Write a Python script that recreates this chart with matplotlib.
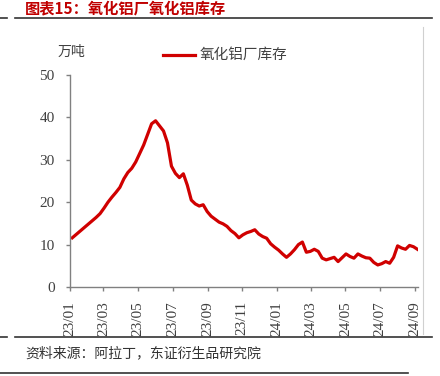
import numpy as np
import pandas as pd
import matplotlib
matplotlib.use('Agg')
from matplotlib import pyplot as plt
import matplotlib.dates as mdates

plt.rcParams['font.family'] = ['Noto Sans CJK SC', 'DejaVu Sans']

# weekly alumina plant inventory, 10k tonnes
dates = pd.date_range('2023-01-05', periods=88, freq='7D')
inventory = [
    11.6, 12.4, 13.2, 14.0, 14.8, 15.6, 16.4, 17.3, 18.6, 20.0,
    21.2, 22.3, 23.5, 25.5, 27.0, 28.0, 29.5, 31.5, 33.5, 36.0,
    38.5, 39.2, 38.0, 36.8, 34.0, 28.5, 26.8, 25.8, 26.7, 24.0,
    20.5, 19.6, 19.1, 19.4, 17.8, 16.7, 16.0, 15.3, 14.9, 14.3,
    13.3, 12.6, 11.6, 12.3, 12.8, 13.1, 13.5, 12.5, 11.9, 11.5,
    10.2, 9.4, 8.7, 7.8, 7.0, 7.8, 8.8, 10.0, 10.6, 8.2,
    8.4, 8.9, 8.4, 6.8, 6.4, 6.7, 7.0, 6.0, 6.9, 7.8,
    7.2, 6.8, 7.8, 7.3, 6.9, 6.8, 5.8, 5.2, 5.5, 6.0,
    5.6, 7.0, 9.7, 9.2, 8.9, 9.8, 9.5, 8.9,
]
y_ticks = [0, 10, 20, 30, 40, 50]
title = '图表15：氧化铝厂氧化铝库存'
series_name = '氧化铝厂库存'
unit = '万吨'
source = '资料来源：阿拉丁，东证衍生品研究院'

red = '#c00000'
grey = '#808080'
num_font = 'Liberation Serif'

fig = plt.figure(figsize=(4.4, 3.76), dpi=100)
ax = fig.add_axes([70 / 440, 89 / 376, 348 / 440, 212 / 376])

ax.plot(dates, inventory, color='#d00000', lw=2.3, solid_joinstyle='round')

ax.set_ylim(0, 50)
ax.set_yticks(y_ticks)
ax.set_xlim(pd.Timestamp('2023-01-01'), dates[-1] + pd.Timedelta(days=1))
ax.xaxis.set_major_locator(mdates.MonthLocator(bymonth=[1, 3, 5, 7, 9, 11]))
ax.xaxis.set_major_formatter(mdates.DateFormatter('%y/%m'))

for s in ('top', 'right'):
    ax.spines[s].set_visible(False)
for s in ('left', 'bottom'):
    ax.spines[s].set_color(grey)
    ax.spines[s].set_linewidth(1.0)
ax.tick_params(axis='both', colors=grey, length=3, width=1.0)
ax.tick_params(axis='y', pad=8)
ax.tick_params(axis='x', pad=7)
for lbl in ax.get_yticklabels():
    lbl.set_fontfamily(num_font)
    lbl.set_fontsize(11)
    lbl.set_color('#404040')
for lbl in ax.get_xticklabels():
    lbl.set_fontfamily(num_font)
    lbl.set_fontsize(11)
    lbl.set_color('#404040')
    lbl.set_rotation(90)

fig.text(58 / 440, 1 - 52 / 376, unit, fontsize=10, color='#404040', va='center')
fig.lines.append(plt.Line2D([163 / 440, 195 / 440], [1 - 55 / 376, 1 - 55 / 376],
                            transform=fig.transFigure, color='#d00000', lw=2.3))
fig.text(200 / 440, 1 - 55 / 376, series_name, fontsize=10.5, color='#404040', va='center')

fig.text(25 / 440, 1 - 8 / 376, title, fontsize=11, color=red, fontweight='bold', va='center')

def hline(y, x0, x1, color='#333333', lw=1.2):
    fig.lines.append(plt.Line2D([x0 / 440, x1 / 440], [1 - y / 376, 1 - y / 376],
                                transform=fig.transFigure, color=color, lw=lw))

hline(18, 0, 7)
hline(18, 15, 432)
hline(337, 0, 7)
hline(337, 15, 432)
hline(373, 0, 408)
fig.lines.append(plt.Line2D([423 / 440, 423 / 440], [1 - 27 / 376, 1 - 334 / 376],
                            transform=fig.transFigure, color='#d0d0d0', lw=0.8))

fig.text(25 / 440, 1 - 353 / 376, source, fontsize=10, color='#333333', va='center')

fig.savefig('out.png', dpi=100)
